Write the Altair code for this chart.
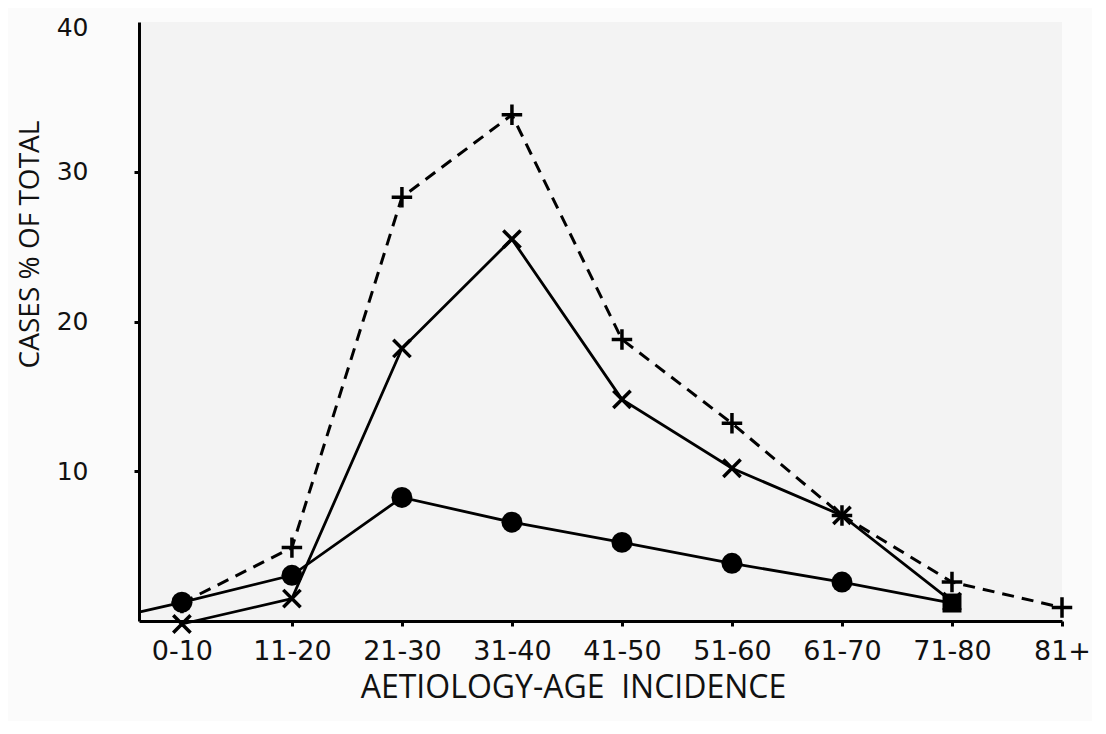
import json
import altair as alt
import pandas as pd

# Age groups (x axis categories)
age_groups = ["0-10", "11-20", "21-30", "31-40", "41-50", "51-60", "61-70", "71-80", "81+"]

# Dashed series with "+" markers
plus_values = [1.2, 4.9, 28.3, 33.8, 18.8, 13.2, 7.05, 2.6, 0.9]
# Solid series with "x" markers (no value for 81+)
cross_values = [-0.2, 1.5, 18.2, 25.5, 14.8, 10.2, 7.05, 1.3]
# Solid series with filled circle markers (no value for 81+)
circle_values = [1.25, 3.05, 8.25, 6.6, 5.25, 3.85, 2.6, 1.2]
# Circle series line begins on the y axis
circle_axis_start = 0.6

y_ticks = [10, 20, 30, 40]

X_MIN = -0.39
X_MAX = 8

plus_df = pd.DataFrame({"i": list(range(len(plus_values))), "v": plus_values})
cross_df = pd.DataFrame({"i": list(range(len(cross_values))), "v": cross_values})
circ_df = pd.DataFrame({"i": list(range(len(circle_values))), "v": circle_values})
circ_line_df = pd.concat(
    [pd.DataFrame({"i": [X_MIN], "v": [circle_axis_start]}), circ_df], ignore_index=True
)

label_expr = json.dumps(age_groups) + "[datum.value]"

LABEL_FONT = "DejaVu Sans"
TITLE_FONT = "Open Sans"

xenc = alt.X(
    "i:Q",
    scale=alt.Scale(domain=[X_MIN, X_MAX], nice=False, zero=False),
    axis=alt.Axis(
        values=list(range(len(age_groups))),
        labelExpr=label_expr,
        grid=False,
        domainColor="black",
        domainWidth=3,
        tickColor="black",
        tickWidth=3,
        tickSize=5,
        labelFont=LABEL_FONT,
        labelFontSize=27,
        labelColor="#111",
        labelPadding=12,
        labelFlush=False,
        title="AETIOLOGY-AGE\u00a0\u00a0INCIDENCE",
        titleFont=TITLE_FONT,
        titleFontSize=32,
        titleFontWeight="normal",
        titleColor="#111",
        titlePadding=8,
        titleX=434,
        titleAlign="center",
    ),
)

yenc = alt.Y(
    "v:Q",
    scale=alt.Scale(domain=[0, 40], nice=False),
    axis=alt.Axis(
        values=y_ticks,
        grid=False,
        domainColor="black",
        domainWidth=3,
        tickColor="black",
        tickWidth=3,
        tickSize=5,
        tickOpacity={"condition": {"test": "datum.value == 40", "value": 0}, "value": 1},
        labelFont=LABEL_FONT,
        labelFontSize=25,
        labelColor="#111",
        labelPadding=46,
        labelOffset={"condition": {"test": "datum.value == 40", "value": 5}, "value": 0},
        title="CASES % OF TOTAL",
        titleFont=TITLE_FONT,
        titleFontSize=28,
        titleFontWeight="normal",
        titleColor="#111",
        titleX=-109,
        titleY=222,
        titleAlign="center",
        titleBaseline="middle",
    ),
)

plus_line = alt.Chart(plus_df).mark_line(
    color="black", strokeWidth=3, strokeDash=[12, 8]
).encode(x=xenc, y=yenc)
cross_line = alt.Chart(cross_df).mark_line(color="black", strokeWidth=2.8).encode(x=xenc, y=yenc)
circ_line = alt.Chart(circ_line_df).mark_line(color="black", strokeWidth=2.8).encode(x=xenc, y=yenc)

plus_pts = alt.Chart(plus_df).mark_point(
    shape="M-1,0L1,0M0,-1L0,1", size=420, stroke="black", strokeWidth=3.5, filled=False, opacity=1
).encode(x=xenc, y=yenc)
cross_pts = alt.Chart(cross_df).mark_point(
    shape="M-1,-1L1,1M-1,1L1,-1", size=300, stroke="black", strokeWidth=3.5, filled=False, opacity=1
).encode(x=xenc, y=yenc)
circ_pts = alt.Chart(circ_df).mark_point(
    filled=True, color="black", opacity=1
).encode(
    x=xenc,
    y=yenc,
    shape=alt.condition("datum.i == 7", alt.value("square"), alt.value("circle")),
    size=alt.condition("datum.i == 7", alt.value(360), alt.value(440)),
)

chart = (
    alt.layer(plus_line, cross_line, circ_line, plus_pts, cross_pts, circ_pts)
    .properties(
        width=923,
        height=599,
        autosize=alt.AutoSizeParams(type="none"),
        padding={"left": 131, "top": 14, "right": 30, "bottom": 100},
        background="#fbfbfb",
    )
    .configure_view(stroke=None, fill="#f3f3f3")
)

chart.save("out.html", embed_options={"renderer": "svg", "actions": False})
